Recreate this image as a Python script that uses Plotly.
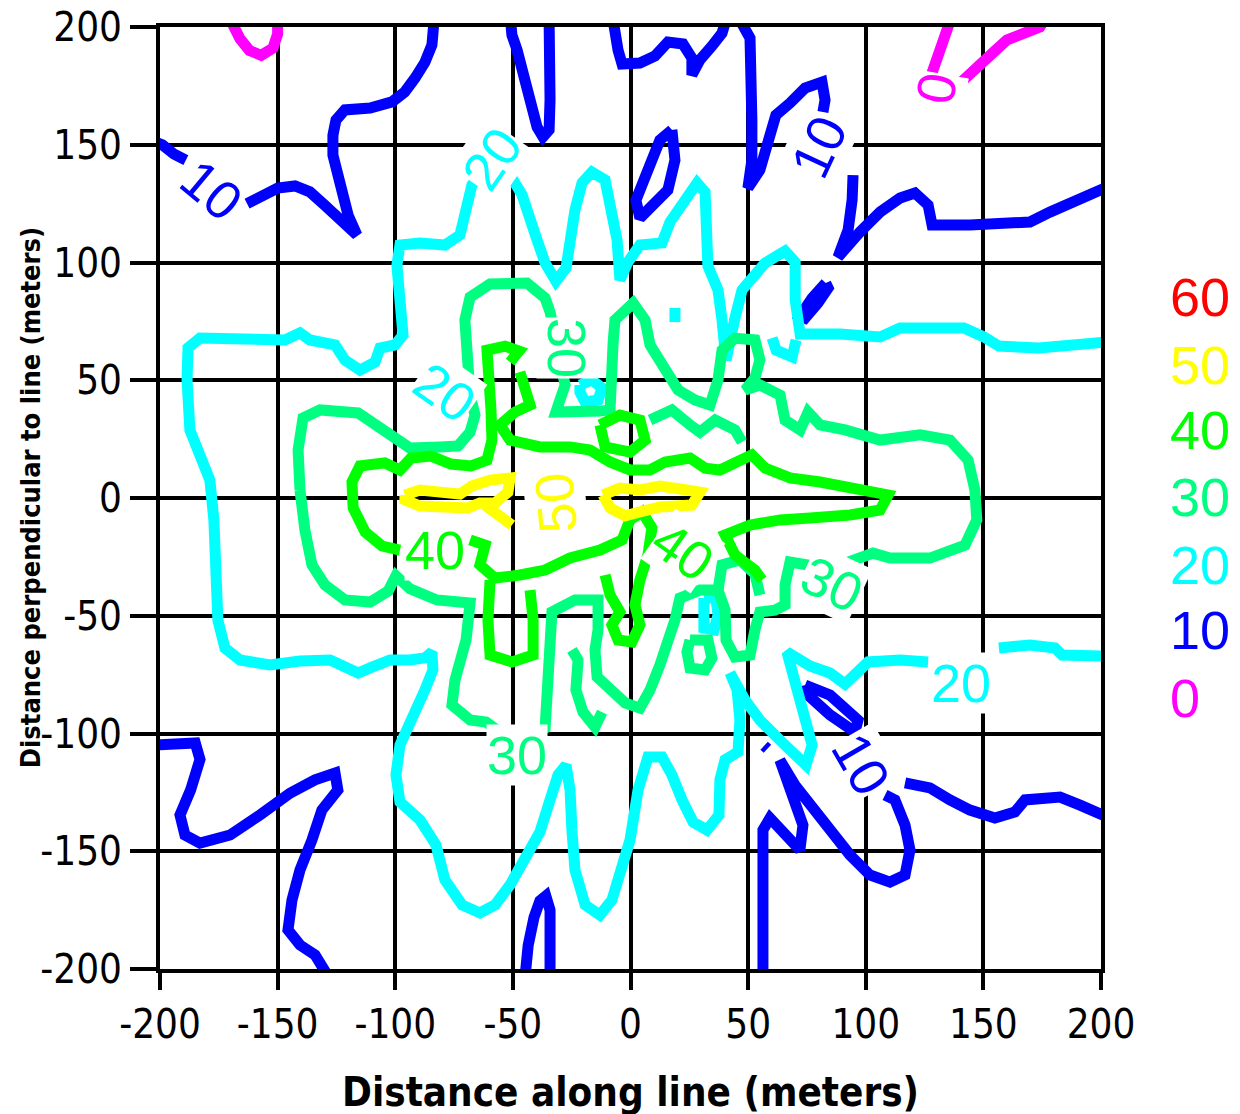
import plotly.graph_objects as go

# ---------------- chart content ----------------
LEVELS = [60, 50, 40, 30, 20, 10, 0]
LEVEL_COLORS = {60: "#FF0000", 50: "#FFFF00", 40: "#00FF00", 30: "#00FF80",
                20: "#00FFFF", 10: "#0000FF", 0: "#FF00FF"}

TICK_VALUES = [-200, -150, -100, -50, 0, 50, 100, 150, 200]
TICK_TEXT = ["-200", "-150", "-100", "-50", "0", "50", "100", "150", "200"]

X_TITLE = "Distance along line (meters)"
Y_TITLE = "Distance perpendicular to line (meters)"

# ---- level 0 contour pieces (x, y) in meters ----
L0_TOP_LEFT = [(-170, 203), (-166, 195), (-162, 190), (-157, 188), (-152, 191), (-150, 197), (-150, 203)]
L0_RIGHT_A = [(136, 203), (134, 198), (132, 190), (129, 184), (128, 180)]
L0_RIGHT_B = [(141, 177), (147, 182), (154, 189), (160, 194.5), (167, 197.5), (174, 200), (176, 203)]

# ---- level 10 contour pieces ----
L10_LEFT_A = [(-204, 152), (-199, 150), (-194, 146), (-189, 143.5)]
L10_LEFT_B = [(-163, 125), (-157, 128), (-150, 131.6), (-142.6, 132.5), (-136.3, 130), (-130, 124.4),
              (-123.5, 118), (-116.3, 111.7), (-120, 120), (-122.3, 128.7), (-124.3, 137), (-126.5, 145.6),
              (-126.5, 154), (-125.2, 160.5), (-121.4, 164.8), (-110.7, 165.6), (-101.4, 168.2), (-96, 172.4),
              (-91.6, 178.3), (-87.4, 185), (-84.4, 192.4), (-83.5, 198.7), (-83.5, 203)]
L10_TOP_SPIKE = [(-51, 203), (-50.4, 196.6), (-48.2, 190.2), (-46, 180.5), (-42.7, 169), (-39.7, 157.5),
                 (-37.2, 153.3), (-34.6, 156.3), (-34.2, 169), (-34.2, 186), (-34.6, 198.7), (-34.6, 203)]
L10_TOP_MID = [(-7.4, 203), (-6.6, 196.6), (-5.3, 190.2), (-3.6, 184.3), (4, 184.7), (10.4, 187.7),
               (15.9, 193.6), (22.3, 192.8), (26.1, 186.8), (26.1, 179.6), (29.5, 186), (34.6, 191.9),
               (38.9, 197.4), (40.6, 203), (46.5, 203), (50.8, 195.3), (51.6, 177.5), (51.6, 160.5),
               (51.6, 143.5), (49.9, 131.6), (55, 139.3), (58.4, 152), (61.8, 162.6), (67.8, 167.7),
               (74.2, 174.1), (81.4, 176.6), (82.7, 169), (81.8, 163.9)]
L10_TOP_RIGHT = [(94.6, 137.1), (94.2, 126.5), (92.5, 113.8), (88.2, 102.3), (97.5, 112.9), (106.1, 121.4),
                 (114.6, 127.4), (120.9, 129.5), (126.5, 124.4), (128.2, 115.9), (144.3, 115.9),
                 (169.8, 117.2), (178.3, 121.4), (189, 125.7), (201.7, 131.6)]
L10_BLOB_A = [(83, 91.3), (77.2, 84.9), (72.1, 77.3), (74.2, 76.4), (79.7, 82.8), (84, 89.2), (83, 91.3)]
L10_BLOB_B = [(17.6, 156.3), (18.9, 143.5), (15.9, 130.8), (8.3, 122.3), (4, 118.9), (2.3, 126.5),
              (7.4, 139.3), (12.5, 152), (17.6, 156.3)]
L10_BOTTOM_LEFT = [(-204, -105), (-185, -104), (-183, -111), (-187, -124), (-191.5, -134.6), (-189.4, -143.1),
                   (-183, -146.5), (-170.2, -143.1), (-157.5, -134.6), (-144.7, -125.3), (-134.1, -119.7),
                   (-125.6, -116.8), (-124.4, -124), (-131.2, -132.5), (-135.4, -145.2), (-140.5, -158),
                   (-143.9, -170.7), (-145.6, -183.4), (-140.5, -189.8), (-134.1, -194), (-128.6, -203)]
L10_BOTTOM_SPIKE = [(-44.8, -203), (-43.5, -190), (-41, -178), (-38.5, -171), (-36, -169), (-34.2, -175),
                    (-34.2, -190), (-34.2, -203)]
L10_BOTTOM_RIGHT = [(56.3, -203), (56.3, -170.7), (56.3, -141), (59.3, -135.9), (65.7, -143.1), (72, -149.5),
                    (73.3, -138.9), (69.1, -128.2), (65.7, -117.6), (63.5, -111.3), (69.9, -121.9),
                    (78.4, -132.5), (86.9, -143.1), (93.3, -151.6), (101.8, -160.1), (110.3, -163.1),
                    (116.7, -160.1), (118.8, -149.5), (116.7, -138.9), (112.4, -128.2), (108.2, -126.1)]
L10_BLOB_C = [(74.2, -79.4), (84.8, -83.7), (96.7, -94.3), (95.4, -99.4), (84.8, -92.1), (75.5, -83.7), (74.2, -79.4)]
L10_DOT = [(56.8, -105.2), (58.2, -106.5)]
L10_RIGHT = [(116.7, -121), (127.3, -123.1), (135.8, -128.2), (144.3, -132.5), (154.9, -135.9), (163.4, -133.3),
             (167.7, -128.2), (182.6, -127), (191.1, -130.4), (201.7, -135)]

# ---- level 20 contour pieces ----
L20_MAIN = [(201.7, 66.2), (173.6, 63.7), (156.6, 64.5), (150.2, 68.4), (141.7, 72.2), (114.6, 72.2),
            (106.1, 68.4), (89.1, 69.6), (72.1, 69.6), (70, 84.1), (70, 100.2), (65.7, 104.9), (57.2, 99.8),
            (51.6, 92.6), (47.4, 88.3), (44.4, 76.4), (40.6, 58.6), (38.9, 75.6), (37.2, 88.3), (32.9, 98.5),
            (32.5, 113.8), (31.7, 129.9), (28.3, 133.8), (21.9, 125.3), (16.8, 117.2), (13.4, 108.3),
            (4, 107.4), (-1.1, 100.2), (-4.5, 92.6), (-5.7, 109.5), (-7.9, 122.3), (-10.8, 135),
            (-16.4, 138.4), (-20.6, 133.8), (-23.6, 122.3), (-25.7, 109.5), (-27.4, 97.7), (-31.7, 92.1),
            (-36.3, 99.8), (-39.7, 109.5), (-42.7, 120.2), (-46.1, 128.7), (-50.4, 135.9), (-58, 145),
            (-67.4, 132.9), (-70, 120.2), (-72.5, 111.7), (-78.9, 107.4), (-89.5, 108.3), (-98, 107.4),
            (-99.3, 98.9), (-98, 84.1), (-96.7, 69.2), (-100.1, 65), (-106.5, 63.7), (-108.6, 57.7),
            (-115, 54.3), (-121.4, 58.6), (-125.6, 65), (-136.3, 67.1), (-140.5, 70.1), (-146.9, 67.1),
            (-161.8, 67.1), (-183, 67.9), (-188.1, 63.7), (-188.5, 50.1), (-187.3, 28.9), (-183, 18.3),
            (-178.8, 7.6), (-177.1, -9.3), (-176.2, -30.6), (-175.4, -51.8), (-172.4, -63.7), (-166, -68.8),
            (-153.3, -70.9), (-140.5, -69.2), (-127.7, -68.8), (-121.4, -71.3), (-115.8, -74.3),
            (-109.9, -71.8), (-102.2, -68.8), (-93.7, -68.8), (-87.4, -67.9), (-84.4, -65.4), (-84, -73),
            (-87.4, -81.5), (-92.9, -94.3), (-98, -104.9), (-99.7, -117.6), (-98, -129.1), (-89.5, -136.7),
            (-82.7, -147.3), (-78.9, -162.2), (-71.6, -172.8), (-64, -176.2), (-57.6, -172.8),
            (-51.2, -164.3), (-44.8, -152.9), (-38.5, -141.8), (-34.2, -128.2), (-30.8, -117.6),
            (-27.4, -113.4), (-25.7, -124), (-24.9, -141), (-23.6, -158), (-19.3, -172.8), (-13, -177.1),
            (-7.9, -170.7), (-4.5, -158), (-0.2, -145.2), (3.2, -124), (7.4, -110), (13.4, -110),
            (17.6, -117.6), (21.9, -128.2), (26.6, -137.6), (32.5, -141), (37.6, -134.6), (38, -119.7),
            (40.2, -111.2), (45.7, -107.8), (46.5, -94.3), (45.3, -81.5), (42.3, -74.3), (48.7, -85.8),
            (55, -94.3), (65.7, -104.9), (74.6, -113.4), (77.2, -104.9), (74.2, -94.3), (70, -81.5),
            (66.5, -65.4), (76.3, -71.3), (84.8, -74.3), (91.2, -79), (95.9, -73.9), (101, -69.6),
            (114.6, -68.8), (126.5, -69.6)]
L20_RIGHT_END = [(156.6, -63.7), (169.8, -62.4), (180.5, -63.7), (183.5, -66.7), (201.7, -67.1)]
L20_HOOK = [(70.4, 67.1), (68.7, 59.9), (61.9, 62.8), (60.2, 67.9)]
L20_BLOB_A = [(-21.5, 48), (-16.4, 50.1), (-12.1, 46.7), (-13.8, 41.6), (-19.3, 40.8), (-21.5, 45), (-21.5, 48)]
L20_BLOB_B = [(31.2, -42.5), (36.3, -42.5), (37.2, -49.7), (35.5, -56), (31.2, -55.2), (30.8, -47.6), (31.2, -42.5)]
L20_DOT = [(18.9, 80.7), (18.9, 74.7)]

# ---- level 30 contour pieces ----
L30_MAIN = [(-140.5, 3.4), (-141.3, 20.4), (-139.2, 34), (-132, 37.4), (-115.8, 36.1), (-108.6, 31),
            (-100.1, 24.6), (-93.7, 21.2), (-80.9, 21.7), (-73.3, 22.1), (-68.2, 28), (-66.1, 35.2),
            (-68.2, 43.7), (-69.1, 58.6), (-70.4, 75.6), (-68.2, 85.3), (-59.7, 90.9), (-44, 91.3),
            (-36.3, 84.9), (-34.2, 79), (-27.8, 48), (-30, 41.6), (-31.7, 36.5), (-13, 36.9), (-8.7, 37.4),
            (-7.4, 65.8), (-6.6, 75.6), (1.1, 82.8), (6.2, 75.6), (8.3, 65), (14.7, 55.2), (20.2, 45.9),
            (27.4, 41.6), (33.8, 39.5), (37.2, 50.1), (38.9, 62.8), (44.4, 67.9), (52.9, 67.1), (55, 58.6),
            (52.9, 51), (48.7, 45.9), (55, 48), (63.6, 43.7), (65.7, 33.1), (72.1, 28.9), (75.5, 36.5),
            (80.6, 31), (91.2, 28.9), (106.1, 24.6), (123.1, 26.8), (135.8, 24.6), (143.5, 16.1),
            (146.4, 3.4), (147.2, -9.3), (142.2, -20), (127.3, -25.5), (110.3, -25.5), (103.1, -23.4),
            (85, -30), (67.8, -27.2), (65.7, -36.9), (65.7, -45.4), (61.4, -47.6), (55, -48.4), (52.9, -56),
            (50.8, -66.7), (44.4, -67.5), (40.6, -60.3), (40.2, -47.6), (37.2, -39.1), (29.5, -39.1),
            (21, -42.5), (18.9, -51.8), (15.9, -62.4), (12.5, -70.9), (8.3, -81.5), (4, -89.2), (-2.3, -87),
            (-8.7, -81.5), (-14.2, -76), (-15.1, -64.5), (-13.8, -56), (-13.8, -43.3), (-23.6, -43.3),
            (-33.4, -48.4), (-34.2, -64.5), (-35.1, -81.5), (-36.3, -97.7), (-48, -105), (-61.4, -95.1),
            (-68.2, -94.3), (-75.9, -87.9), (-74.6, -77.3), (-69.9, -60.3), (-68.2, -44.6), (-82.3, -43.3),
            (-93.7, -38.6), (-99.7, -33), (-103, -39.5), (-110.7, -44.2), (-121.4, -43.3), (-129.9, -36.9),
            (-135.4, -28.4), (-138.4, -13.6), (-140.5, 3.4)]
L30_STRAND = [(-24.9, -64.5), (-22.3, -68.8), (-23.2, -81.5), (-20.2, -90.9), (-15.1, -97.2), (-12.1, -90.9)]
L30_INNER_A = [(8.3, 33.1), (17.6, 37.4), (25.3, 31), (29.5, 28), (36, 33.1), (44.4, 28.9), (47.4, 23.8)]
L30_INNER_B = [(37.2, -39.1), (38.9, -28.4), (46.5, -26.3), (52.9, -32.3), (55, -41.2)]
L30_BLOB = [(25.3, -60.3), (32.9, -60.3), (34.6, -68), (31.7, -73), (25.3, -72.2), (24, -65.4), (25.3, -60.3)]

# ---- level 40 contour pieces ----
L40_LEFT = [(-98, -22.1), (-105.6, -20.4), (-112.8, -14.4), (-117.9, -4.2), (-118.4, 6.8), (-115, 13.6),
            (-104.4, 14.9), (-98, 11.9), (-93.3, 17), (-84.8, 17.8), (-76.3, 14.4), (-67.8, 13.6), (-61, 16.1),
            (-58.9, 24.6), (-59.3, 37.4), (-60.2, 50.1), (-61, 62.8), (-53.3, 64.5), (-47.4, 62.4), (-51.2, 57.7)]
L40_UPPER = [(-47, 53.5), (-44, 45.9), (-42.7, 39.5), (-49.1, 36.5), (-55.5, 31), (-51.2, 24.6), (-38.5, 21.7),
             (-25.7, 21.7), (-17.2, 20.4), (-8.7, 15.3), (-0.2, 11.9), (8.3, 11.9), (14.7, 15.3), (25.3, 17),
             (31.7, 12.7), (38, 11.9), (46.5, 15.3), (51.6, 18.3), (57.2, 12.7), (67.8, 8.5), (80.6, 6.8),
             (97.5, 4.2), (109.5, 1.3), (106.1, -5.1), (93.3, -7.2), (76.3, -8.5), (63.6, -9.3), (50.8, -11.5),
             (40.2, -15.7), (44.4, -24.2), (52.9, -30.6), (55.9, -34.8)]
L40_LOWER = [(-68.2, -17.8), (-61.8, -20), (-64, -28.4), (-57.6, -34), (-47, -32.7), (-36.3, -30.6),
             (-25.7, -25.5), (-13, -22.1), (-3.6, -17.8), (-0.2, -9.3), (4.9, -5.9), (9.1, -12.7),
             (7.4, -24.2), (4, -34.8), (1.9, -45.4), (4, -53.9), (0.6, -61.1), (-5.3, -60.3), (-7.9, -53.9),
             (-4.5, -48.4), (-8.7, -41.2), (-10.8, -32.7)]
L40_U = [(-59.7, -34.8), (-60.6, -51.8), (-59.7, -66.7), (-50.4, -69.6), (-41.4, -66.7), (-41.4, -51.8), (-42.7, -39.1)]
L40_BLOB = [(-13, 31), (-4.5, 35.2), (4, 33.1), (6.2, 24.6), (-0.2, 19.5), (-10.8, 21.7), (-13, 31)]

# ---- level 50 contour pieces ----
L50_LEFT = [(-95.9, 1.3), (-89.5, 3.4), (-80.9, 2.5), (-72.5, 1.7), (-67.4, 5.1), (-59.7, 7.6), (-51.2, 8.5),
            (-52.1, 2.5), (-57.6, -2.1), (-64, -2.1), (-69.1, -4.2), (-80.9, -3.8), (-89.5, -3.4),
            (-95.9, -0.8), (-95.9, 1.3)]
L50_TAIL = [(-61.9, -3), (-56.3, -7.2), (-50.4, -11.5)]
L50_RIGHT = [(-11.7, 1.3), (-4.5, 4.2), (4, 3.4), (12.5, 5.1), (21, 3.8), (29.5, 2.5), (26.1, -3), (12.5, -3.8),
             (4, -5.9), (-2.3, -7.6), (-8.7, -4.2), (-11.7, 1.3)]

CONTOURS = {
    0: [L0_TOP_LEFT, L0_RIGHT_A, L0_RIGHT_B],
    10: [L10_LEFT_A, L10_LEFT_B, L10_TOP_SPIKE, L10_TOP_MID, L10_TOP_RIGHT, L10_BLOB_A, L10_BLOB_B,
         L10_BOTTOM_LEFT, L10_BOTTOM_SPIKE, L10_BOTTOM_RIGHT, L10_BLOB_C, L10_DOT, L10_RIGHT],
    20: [L20_MAIN, L20_RIGHT_END, L20_HOOK, L20_BLOB_A, L20_BLOB_B, L20_DOT],
    30: [L30_MAIN, L30_STRAND, L30_INNER_A, L30_INNER_B, L30_BLOB],
    40: [L40_LEFT, L40_UPPER, L40_LOWER, L40_U, L40_BLOB],
    50: [L50_LEFT, L50_TAIL, L50_RIGHT],
}

# contour labels: (level, x, y, rotation in degrees)
CONTOUR_LABELS = [
    (0, 130, 174, -80),
    (10, -178, 131, 40),
    (10, 80, 149, -65),
    (10, 98, -113, 60),
    (20, -59, 144, -55),
    (20, -79, 45, 35),
    (20, 140.5, -78.6, 0),
    (30, -27, 63.7, 90),
    (30, -48.2, -109, 0),
    (30, 85.7, -36.5, 25),
    (40, -83, -22, 0),
    (40, 22.3, -22.5, 35),
    (50, -32, -2, -95),
]

# ---------------- figure ----------------
FONT_NARROW = "Liberation Sans Narrow, Arial Narrow, DejaVu Sans Condensed, Liberation Sans, Arial, sans-serif"
FONT_LABEL = "Liberation Sans, Arial, sans-serif"

fig = go.Figure()
for level in [0, 10, 20, 30, 40, 50]:
    xs, ys = [], []
    for path in CONTOURS[level]:
        for (px, py) in path:
            xs.append(px)
            ys.append(py)
        xs.append(None)
        ys.append(None)
    fig.add_trace(go.Scatter(x=xs, y=ys, mode="lines", connectgaps=False,
                             line=dict(color=LEVEL_COLORS[level], width=11),
                             hoverinfo="skip", showlegend=False))

annotations = []
for level, lx, ly, ang in CONTOUR_LABELS:
    annotations.append(dict(x=lx, y=ly, xref="x", yref="y", text=str(level), showarrow=False,
                            textangle=ang, bgcolor="white", borderpad=0,
                            font=dict(family=FONT_LABEL, size=54, color=LEVEL_COLORS[level])))

# level key at the right
legend_y = [0.713, 0.641, 0.572, 0.501, 0.429, 0.360, 0.288]
for level, yy in zip(LEVELS, legend_y):
    annotations.append(dict(x=1.071, y=yy, xref="paper", yref="paper", xanchor="left", yanchor="middle",
                            text=str(level), showarrow=False,
                            font=dict(family=FONT_LABEL, size=54, color=LEVEL_COLORS[level])))

annotations.append(dict(x=0.5, y=-0.131, xref="paper", yref="paper", xanchor="center", yanchor="middle",
                        text="<b>" + X_TITLE + "</b>", showarrow=False,
                        font=dict(family=FONT_NARROW, size=40, color="black")))
annotations.append(dict(x=-0.138, y=0.5, xref="paper", yref="paper", xanchor="center", yanchor="middle",
                        text="<b>" + Y_TITLE + "</b>", showarrow=False, textangle=-90,
                        font=dict(family=FONT_NARROW, size=27, color="black")))

axis_common = dict(range=[-200, 200], tickmode="array", tickvals=TICK_VALUES, ticktext=TICK_TEXT,
                   showgrid=True, gridcolor="black", gridwidth=4, zeroline=False,
                   showline=True, linecolor="black", linewidth=4, mirror=True,
                   ticks="outside", tickcolor="black", tickwidth=4, automargin=False,
                   ticklabeloverflow="allow",
                   tickfont=dict(family=FONT_NARROW, size=40, color="black"), fixedrange=True)

# the page adds an 8 px body margin, so the figure is sized to land the plot area at the reference position
fig.update_layout(
    width=1232, height=1106,
    margin=dict(l=152, r=139, t=19, b=145, autoexpand=False),
    paper_bgcolor="white", plot_bgcolor="white",
    xaxis=dict(**axis_common, ticklen=17),
    yaxis=dict(**axis_common, ticklen=26),
    annotations=annotations,
    showlegend=False,
)

fig.write_html("out.html")
